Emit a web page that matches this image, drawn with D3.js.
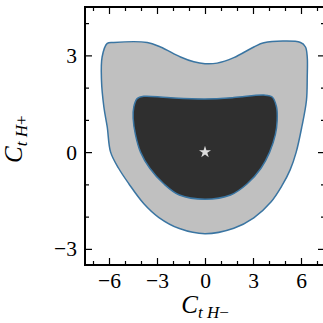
<!DOCTYPE html>
<html lang="en">
<head>
  <meta charset="UTF-8">
  <title>CtH contour</title>
  <script src="https://d3js.org/d3.v7.min.js"></script>
  <style>
    body { margin: 0; padding: 0; background: white; }
    svg { display: block; font-family: "Liberation Serif", serif; }
    .axis path { display: none; }
    .axis line { stroke: black; stroke-width: 1.2px; }
  </style>
</head>
<body>
  <div id="chart"></div>
  <script>
    // 95% region (outer contour), points along the boundary
    const outerX = [-6.11, -5.70, -3.61, -2.78, -1.53, -0.70, 0, 0.76, 1.80, 3.05, 3.68, 5.97, 6.28, 6.39, 6.39,
                    6.34, 6.05, 5.70, 5.32, 4.80, 4.12, 3.05, 1.80, 0,
                    -1.60, -2.90, -3.82, -4.76, -5.40, -5.90, -6.11, -6.32, -6.47, -6.43];
    const outerY = [3.37, 3.40, 3.40, 3.26, 2.95, 2.80, 2.74, 2.76, 2.93, 3.26, 3.39, 3.40, 3.26, 2.95, 2.33,
                    1.60, 0.78, 0.00, -0.55, -1.05, -1.55, -2.04, -2.36, -2.53,
                    -2.37, -2.02, -1.60, -0.98, -0.50, 0.00, 0.78, 1.40, 2.23, 2.95];

    // 68% region (inner contour)
    const innerX = [-4.45, -4.24, -3.82, -2.36, 0, 1.80, 3.68, 4.20, 4.47, 4.51, 4.40, 4.04, 3.50, 2.64, 1.60, 0,
                    -1.60, -2.58, -3.45, -4.03, -4.35, -4.49];
    const innerY = [1.40, 1.66, 1.73, 1.69, 1.65, 1.69, 1.77, 1.71, 1.40, 0.98, 0.55, 0.00, -0.50, -0.98, -1.33, -1.46,
                    -1.33, -0.98, -0.50, 0.00, 0.55, 1.05];

    const bestFit = [0, 0];

    const xMajor = [-6, -3, 0, 3, 6];
    const xMinor = [-7, -5, -4, -2, -1, 1, 2, 4, 5, 7];
    const yMajor = [-3, 0, 3];
    const yMinor = [-2, -1, 1, 2, 4];

    const W = 323, H = 323;
    const margin = { top: 7, right: -2, bottom: 58, left: 85 };
    const width = W - margin.left - margin.right;
    const height = H - margin.top - margin.bottom;

    const svg = d3.select("#chart").append("svg")
      .attr("width", W).attr("height", H);

    const g = svg.append("g")
      .attr("transform", `translate(${margin.left},${margin.top})`);

    const x = d3.scaleLinear().domain([-7.5, 7.5]).range([0, width]);
    const y = d3.scaleLinear().domain([-3.5, 4.5]).range([height, 0]);

    const line = d3.line()
      .x(d => x(d[0])).y(d => y(d[1]))
      .curve(d3.curveCatmullRomClosed.alpha(0.5));

    const outer = outerX.map((v, i) => [v, outerY[i]]);
    const inner = innerX.map((v, i) => [v, innerY[i]]);

    g.append("path").datum(outer)
      .attr("d", line)
      .attr("fill", "#c0c0c0")
      .attr("stroke", "#3a75a2")
      .attr("stroke-width", 1.5);

    g.append("path").datum(inner)
      .attr("d", line)
      .attr("fill", "#2f2f2f")
      .attr("stroke", "#3a75a2")
      .attr("stroke-width", 1.5);

    // best-fit star
    g.append("path")
      .attr("d", d3.symbol(d3.symbolStar, 45)())
      .attr("transform", `translate(${x(bestFit[0])},${y(bestFit[1])})`)
      .attr("fill", "#dcdcdc");

    const fmt = d3.format("d");

    function styleAxis(sel) {
      sel.attr("font-family", "'Liberation Serif', serif").attr("font-size", 21.5);
      sel.selectAll("text").attr("fill", "black");
    }

    // axes with inward ticks
    g.append("g").attr("class", "axis")
      .attr("transform", `translate(0,${height})`)
      .call(d3.axisBottom(x).tickValues(xMajor).tickFormat(fmt).tickSize(-7).tickPadding(8))
      .call(styleAxis);
    g.append("g").attr("class", "axis")
      .attr("transform", `translate(0,${height})`)
      .call(d3.axisBottom(x).tickValues(xMinor).tickFormat("").tickSize(-4));
    g.append("g").attr("class", "axis")
      .call(d3.axisTop(x).tickValues(xMajor).tickFormat("").tickSize(-7));
    g.append("g").attr("class", "axis")
      .call(d3.axisTop(x).tickValues(xMinor).tickFormat("").tickSize(-4));

    g.append("g").attr("class", "axis")
      .call(d3.axisLeft(y).tickValues(yMajor).tickFormat(fmt).tickSize(-7).tickPadding(8))
      .call(styleAxis);
    g.append("g").attr("class", "axis")
      .call(d3.axisLeft(y).tickValues(yMinor).tickFormat("").tickSize(-4));
    g.append("g").attr("class", "axis")
      .attr("transform", `translate(${width},0)`)
      .call(d3.axisRight(y).tickValues(yMajor).tickFormat("").tickSize(-7));
    g.append("g").attr("class", "axis")
      .attr("transform", `translate(${width},0)`)
      .call(d3.axisRight(y).tickValues(yMinor).tickFormat("").tickSize(-4));

    // frame
    g.append("rect")
      .attr("width", width).attr("height", height)
      .attr("fill", "none").attr("stroke", "black").attr("stroke-width", 2);

    // axis labels
    const xl = svg.append("text")
      .attr("x", margin.left + x(0)).attr("y", 313)
      .attr("text-anchor", "middle");
    xl.append("tspan").attr("font-style", "italic").attr("font-size", 25).text("C");
    xl.append("tspan").attr("font-style", "italic").attr("font-size", 17).attr("dy", 5).text("t H");
    xl.append("tspan").attr("font-size", 17).text("−");

    const yl = svg.append("text")
      .attr("transform", `translate(22,${margin.top + y(0.4)}) rotate(-90)`)
      .attr("text-anchor", "middle");
    yl.append("tspan").attr("font-style", "italic").attr("font-size", 25).text("C");
    yl.append("tspan").attr("font-style", "italic").attr("font-size", 17).attr("dy", 5).text("t H");
    yl.append("tspan").attr("font-size", 17).text("+");
  </script>
</body>
</html>
